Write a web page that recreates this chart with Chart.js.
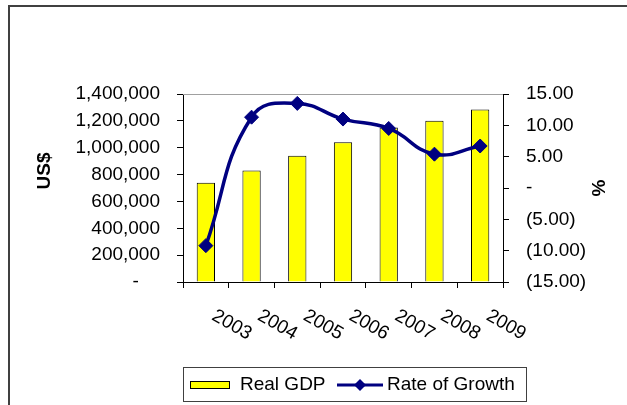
<!DOCTYPE html>
<html>
<head>
<meta charset="utf-8">
<script src="https://cdn.jsdelivr.net/npm/chart.js@4.4.1/dist/chart.umd.min.js"></script>
<style>
  body { margin: 0; background: #fff; }
  canvas { display: block; }
</style>
</head>
<body>
<canvas id="gdpChart" width="627" height="405"></canvas>
<script>
const years = ['2003', '2004', '2005', '2006', '2007', '2008', '2009'];
const realGdp = [740000, 830000, 940000, 1040000, 1150000, 1200000, 1285000];
const growthRate = [-9.2, 11.3, 13.5, 11.0, 9.5, 5.4, 6.7];
const gdpTicks = [0, 200000, 400000, 600000, 800000, 1000000, 1200000, 1400000];
const growthTicks = [-15, -10, -5, 0, 5, 10, 15];

const FONT = "'Liberation Sans', Arial, sans-serif";
const NAVY = '#000080';

// extra drawing: frame, rotated year labels, axis titles, boxed legend
const decor = {
    id: 'decor',
    beforeDraw(chart) {
        const ctx = chart.ctx;
        ctx.save();
        ctx.strokeStyle = '#404040';
        ctx.lineWidth = 2;
        ctx.beginPath();
        ctx.moveTo(9, 405);
        ctx.lineTo(9, 6);
        ctx.lineTo(627, 6);
        ctx.stroke();
        ctx.restore();
    },
    afterDraw(chart) {
        const ctx = chart.ctx;
        const area = chart.chartArea;
        const x = chart.scales.x;
        ctx.save();

        // top edge of plot area
        ctx.strokeStyle = '#a0a0a0';
        ctx.lineWidth = 1;
        ctx.beginPath();
        ctx.moveTo(area.left, area.top + 0.5);
        ctx.lineTo(area.right, area.top + 0.5);
        ctx.stroke();

        // year labels, rotated clockwise
        ctx.fillStyle = '#000';
        ctx.font = '19px ' + FONT;
        ctx.textAlign = 'left';
        ctx.textBaseline = 'alphabetic';
        years.forEach((y, i) => {
            const px = x.getPixelForTick(i);
            ctx.save();
            ctx.translate(px + 5, area.bottom + 37);
            ctx.rotate(30 * Math.PI / 180);
            ctx.fillText(y, 0, 0);
            ctx.restore();
        });

        // axis titles
        ctx.font = 'bold 19px ' + FONT;
        ctx.textAlign = 'center';
        ctx.textBaseline = 'middle';
        ctx.save();
        ctx.translate(45, 171);
        ctx.rotate(-Math.PI / 2);
        ctx.fillText('US$', 0, 0);
        ctx.restore();
        ctx.save();
        ctx.translate(600, 188);
        ctx.rotate(-Math.PI / 2);
        ctx.fillText('%', 0, 0);
        ctx.restore();

        // legend
        ctx.strokeStyle = '#404040';
        ctx.lineWidth = 1;
        ctx.strokeRect(183.5, 367.5, 343, 34);
        ctx.fillStyle = '#ffff00';
        ctx.fillRect(190, 381, 40, 8);
        ctx.strokeStyle = '#000';
        ctx.strokeRect(190.5, 381.5, 39, 7);
        ctx.fillStyle = '#000';
        ctx.font = '19px ' + FONT;
        ctx.textAlign = 'left';
        ctx.fillText('Real GDP', 240, 385);
        ctx.strokeStyle = NAVY;
        ctx.lineWidth = 3;
        ctx.beginPath();
        ctx.moveTo(337, 385);
        ctx.lineTo(383, 385);
        ctx.stroke();
        ctx.fillStyle = NAVY;
        ctx.beginPath();
        ctx.moveTo(360, 379);
        ctx.lineTo(366, 385);
        ctx.lineTo(360, 391);
        ctx.lineTo(354, 385);
        ctx.closePath();
        ctx.fill();
        ctx.fillStyle = '#000';
        ctx.fillText('Rate of Growth', 387, 385);

        ctx.restore();
    }
};

document.addEventListener('DOMContentLoaded', function () {
    const ctx = document.getElementById('gdpChart');

    new Chart(ctx, {
        type: 'bar',
        data: {
            labels: years,
            datasets: [
                {
                    type: 'line',
                    label: 'Rate of Growth',
                    data: growthRate,
                    yAxisID: 'y1',
                    borderColor: NAVY,
                    backgroundColor: NAVY,
                    borderWidth: 3.5,
                    tension: 0.45,
                    pointStyle: 'rectRot',
                    pointRadius: 7,
                    pointBorderWidth: 1,
                    order: 0
                },
                {
                    label: 'Real GDP',
                    data: realGdp,
                    yAxisID: 'y',
                    backgroundColor: '#ffff00',
                    borderColor: '#000',
                    borderWidth: 1,
                    barPercentage: 0.4,
                    categoryPercentage: 1,
                    order: 1
                }
            ]
        },
        options: {
            responsive: false,
            animation: false,
            devicePixelRatio: 1,
            layout: { padding: { top: 94, left: 10, right: 0, bottom: 0 } },
            plugins: {
                legend: { display: false },
                tooltip: { enabled: false }
            },
            scales: {
                x: {
                    offset: true,
                    grid: {
                        offset: true,
                        drawOnChartArea: false,
                        color: '#000',
                        tickLength: 6
                    },
                    border: { color: '#000' },
                    ticks: { display: false },
                    afterFit(scale) { scale.height = 123; }
                },
                y: {
                    position: 'left',
                    min: 0,
                    max: 1400000,
                    afterBuildTicks(scale) { scale.ticks = gdpTicks.map(v => ({ value: v })); },
                    grid: { drawOnChartArea: false, color: '#000', tickLength: 6 },
                    border: { color: '#000' },
                    ticks: {
                        color: '#000',
                        padding: 17,
                        font: { family: FONT, size: 19 },
                        callback: v => v === 0 ? '-    ' : v.toLocaleString('en-US')
                    },
                    afterFit(scale) { scale.width = 173; }
                },
                y1: {
                    position: 'right',
                    min: -15,
                    max: 15,
                    afterBuildTicks(scale) { scale.ticks = growthTicks.map(v => ({ value: v })); },
                    grid: { drawOnChartArea: false, color: '#000', tickLength: 6 },
                    border: { color: '#000' },
                    ticks: {
                        color: '#000',
                        padding: 17,
                        font: { family: FONT, size: 19 },
                        callback: v => v === 0 ? '-' : (v < 0 ? '(' + Math.abs(v).toFixed(2) + ')' : v.toFixed(2))
                    },
                    afterFit(scale) { scale.width = 124; }
                }
            }
        },
        plugins: [decor]
    });
});
</script>
</body>
</html>
